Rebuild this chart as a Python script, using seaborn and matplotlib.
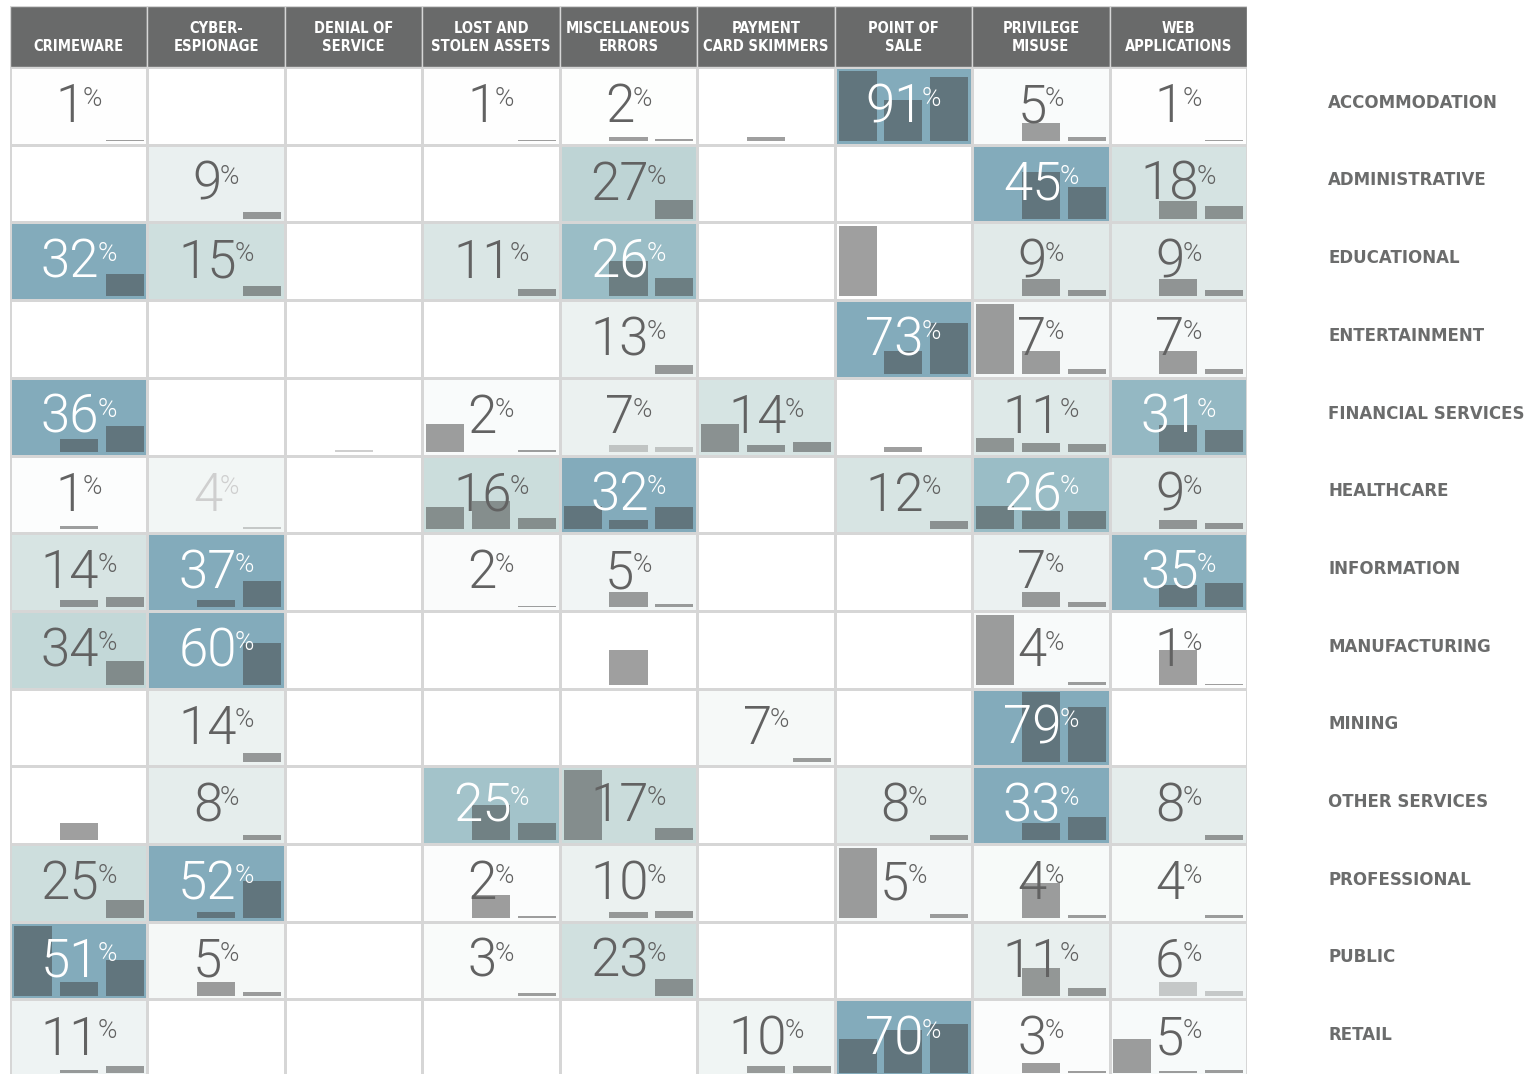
import matplotlib
matplotlib.use('Agg')
import matplotlib.pyplot as plt
import seaborn as sns
import numpy as np
import pandas as pd
from matplotlib.colors import LinearSegmentedColormap
from matplotlib.patches import Rectangle

patterns = ['CRIMEWARE', 'CYBER-\nESPIONAGE', 'DENIAL OF\nSERVICE', 'LOST AND\nSTOLEN ASSETS',
            'MISCELLANEOUS\nERRORS', 'PAYMENT\nCARD SKIMMERS', 'POINT OF\nSALE',
            'PRIVILEGE\nMISUSE', 'WEB\nAPPLICATIONS']
industries = ['ACCOMMODATION', 'ADMINISTRATIVE', 'EDUCATIONAL', 'ENTERTAINMENT',
              'FINANCIAL SERVICES', 'HEALTHCARE', 'INFORMATION', 'MANUFACTURING',
              'MINING', 'OTHER SERVICES', 'PROFESSIONAL', 'PUBLIC', 'RETAIL']

N = np.nan
# share of breaches per industry (current year), % of row
share = [
    [1, N, N, 1, 2, N, 91, 5, 1],
    [N, 9, N, N, 27, N, N, 45, 18],
    [32, 15, N, 11, 26, N, N, 9, 9],
    [N, N, N, N, 13, N, 73, 7, 7],
    [36, N, N, 2, 7, 14, N, 11, 31],
    [1, 4, N, 16, 32, N, 12, 26, 9],
    [14, 37, N, 2, 5, N, N, 7, 35],
    [34, 60, N, N, N, N, N, 4, 1],
    [N, 14, N, N, N, 7, N, 79, N],
    [N, 8, N, 25, 17, N, 8, 33, 8],
    [25, 52, N, 2, 10, N, 5, 4, 4],
    [51, 5, N, 3, 23, N, N, 11, 6],
    [11, N, N, N, N, 10, 70, 3, 5],
]
# earlier years (left bar = two years back, middle bar = one year back)
prev2 = [
    [0, 0, 0, 0, 0, 0, 100, 0, 0],
    [0, 0, 0, 0, 0, 0, 0, 0, 0],
    [0, 0, 0, 0, 0, 0, 100, 0, 0],
    [0, 0, 0, 0, 0, 0, 0, 100, 0],
    [0, 0, 0, 40, 0, 40, 0, 19, 0],
    [0, 0, 0, 32, 33, 0, 0, 33, 0],
    [0, 0, 0, 0, 0, 0, 0, 0, 0],
    [0, 0, 0, 0, 0, 0, 0, 100, 0],
    [0, 0, 0, 0, 0, 0, 0, 0, 0],
    [0, 0, 0, 0, 100, 0, 0, 0, 0],
    [0, 0, 0, 0, 0, 0, 100, 0, 0],
    [100, 0, 0, 0, 0, 0, 0, 0, 0],
    [0, 0, 0, 0, 0, 0, 49, 0, 49],
]
prev1 = [
    [0, 0, 0, 0, 6, 6, 59, 26, 0],
    [0, 0, 0, 0, 0, 0, 0, 67, 25],
    [0, 0, 0, 0, 50, 0, 0, 24, 24],
    [0, 0, 0, 0, 0, 0, 33, 33, 33],
    [18, 0, 3, 0, 10, 10, 7, 12, 38],
    [5, 0, 0, 40, 13, 0, 0, 26, 13],
    [10, 10, 0, 0, 21, 0, 0, 21, 32],
    [0, 0, 0, 0, 50, 0, 0, 0, 50],
    [0, 0, 0, 0, 0, 0, 0, 100, 0],
    [25, 0, 0, 50, 0, 0, 0, 25, 0],
    [0, 8, 0, 33, 8, 0, 0, 50, 0],
    [20, 20, 0, 0, 0, 0, 0, 40, 20],
    [4, 0, 0, 0, 0, 10, 62, 14, 3],
]
# low-confidence cells drawn lighter (row, col)
faded = [(4, 2), (4, 4), (5, 1), (11, 8)]

cur = pd.DataFrame(share, index=industries, columns=patterns)
ratio = cur.div(cur.max(axis=1), axis=0).fillna(0)

cmap = LinearSegmentedColormap.from_list(
    'dbir', [(0, '#ffffff'), (0.3, '#dfe9e8'), (0.55, '#c6dad9'),
             (0.78, '#9fc0c8'), (1, '#83abbb')])

fig = plt.figure(figsize=(15.33, 10.74), dpi=100)
ax = fig.add_axes([10 / 1533, 0, 1237 / 1533, 1068 / 1074])
sns.heatmap(ratio, ax=ax, cmap=cmap, vmin=0, vmax=1, cbar=False,
            linewidths=1.0, linecolor='#d6d6d6',
            xticklabels=False, yticklabels=False)
ax.set_ylim(12.96, -0.785)
ax.set_xlim(0, 9)

# header
for j, p in enumerate(patterns):
    ax.add_patch(Rectangle((j, -0.785), 1, 0.785, facecolor='#696a6a',
                           edgecolor='#d6d6d6', lw=1.0))
    ax.text(j + 0.5, -0.2, p, ha='center', va='baseline', color='white',
            fontsize=10.5, fontweight='bold', fontstretch='condensed',
            linespacing=1.3)

# bars: two earlier years + current
bw = 0.277
for i in range(len(industries)):
    for j in range(len(patterns)):
        v = share[i][j]
        vals = [prev2[i][j], prev1[i][j], 0 if np.isnan(v) else v]
        a = 0.25 if (i, j) in faded else 0.5
        xs = [j + 1 / 6, j + 0.5, j + 5 / 6]
        hs = [-x / 100 * 0.9 for x in vals]
        ax.bar(xs, hs, width=bw, bottom=i + 0.95, color='#404040', alpha=a,
               linewidth=0, zorder=3)

# percent labels
numfont = ['Roboto', 'DejaVu Sans']
labels = []
for i in range(len(industries)):
    for j in range(len(patterns)):
        v = share[i][j]
        if np.isnan(v):
            continue
        r = ratio.iloc[i, j]
        col = 'white' if r > 0.7 else '#626262'
        if (i, j) == (5, 1):
            col = '#cfcfcf'
        t1 = ax.text(j + 0.5, i + 0.71, f'{int(v)}', ha='right', va='baseline',
                     fontsize=38, fontweight=300, family=numfont,
                     color=col, zorder=5)
        t2 = ax.text(j + 0.5, i + 0.50, '%', ha='left', va='baseline',
                     fontsize=19, fontweight=300, family=numfont,
                     color=col, zorder=5)
        labels.append((t1, t2, j + 0.5))

for i, name in enumerate(industries):
    ax.text(9.59, i + 0.46, name, ha='left', va='center', fontsize=12,
            fontweight='bold', color='#6b6c6c', clip_on=False)

fig.canvas.draw()
rend = fig.canvas.get_renderer()
px = ax.transData.transform((1, 0))[0] - ax.transData.transform((0, 0))[0]
gap = -2
for t1, t2, cx in labels:
    wn = t1.get_window_extent(rend).width
    wp = t2.get_window_extent(rend).width
    x0 = cx + (wn - wp - gap) / 2 / px
    t1.set_x(x0)
    t2.set_x(x0 + gap / px)

fig.savefig('out.png', dpi=100)
